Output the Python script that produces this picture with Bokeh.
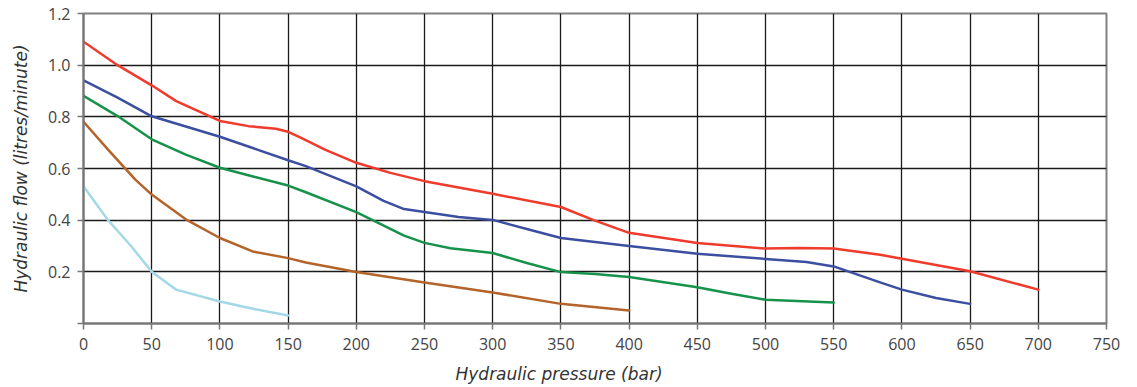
from bokeh.plotting import figure
from bokeh.models import Range1d, FixedTicker, Title
from bokeh.embed import file_html
from bokeh.resources import INLINE

# ---- data ----
x_ticks = [0, 50, 100, 150, 200, 250, 300, 350, 400, 450, 500, 550, 600, 650, 700, 750]
x_tick_labels = ["0", "50", "100", "150", "200", "250", "300", "350", "400", "450", "500", "550", "600", "650", "700", "750"]
y_ticks = [0, 0.2, 0.4, 0.6, 0.8, 1.0, 1.2]
y_tick_labels = ["", "0.2", "0.4", "0.6", "0.8", "1.0", "1.2"]

red_x = [0, 25, 50, 68, 100, 121, 141, 150, 160, 177, 200, 225, 250, 300, 350, 374, 400, 450, 500, 525, 550, 584, 600, 650, 700]
red_y = [1.091, 1.0, 0.922, 0.861, 0.784, 0.764, 0.754, 0.742, 0.718, 0.673, 0.622, 0.583, 0.551, 0.502, 0.451, 0.40, 0.351, 0.312, 0.290, 0.292, 0.290, 0.266, 0.251, 0.202, 0.131]

blue_x = [0, 25, 50, 100, 150, 163, 200, 220, 235, 250, 275, 300, 325, 350, 400, 450, 500, 530, 550, 584, 600, 625, 650]
blue_y = [0.941, 0.874, 0.802, 0.723, 0.632, 0.609, 0.531, 0.475, 0.443, 0.432, 0.412, 0.401, 0.366, 0.331, 0.300, 0.270, 0.250, 0.238, 0.221, 0.159, 0.131, 0.099, 0.076]

green_x = [0, 25, 50, 75, 100, 125, 150, 163, 200, 235, 250, 269, 300, 325, 350, 375, 400, 450, 475, 500, 550]
green_y = [0.881, 0.803, 0.713, 0.654, 0.603, 0.568, 0.534, 0.508, 0.431, 0.340, 0.312, 0.291, 0.273, 0.234, 0.199, 0.192, 0.180, 0.140, 0.115, 0.092, 0.081]

brown_x = [0, 18, 38, 50, 76, 100, 124, 150, 163, 200, 250, 300, 350, 400]
brown_y = [0.781, 0.673, 0.557, 0.499, 0.40, 0.331, 0.279, 0.253, 0.236, 0.199, 0.159, 0.120, 0.076, 0.050]

cyan_x = [0, 18, 35, 50, 68, 100, 125, 150]
cyan_y = [0.531, 0.40, 0.299, 0.20, 0.131, 0.085, 0.056, 0.031]

series = [
    (red_x, red_y, "#ef3b2c"),
    (blue_x, blue_y, "#3b4ea0"),
    (green_x, green_y, "#16924a"),
    (brown_x, brown_y, "#b4632a"),
    (cyan_x, cyan_y, "#a3d8e6"),
]

TICK_FONT = "Open Sans"
TITLE_FONT = "DejaVu Sans"

p = figure(
    frame_width=1023, frame_height=310,
    min_border_left=83, min_border_right=21, min_border_top=13, min_border_bottom=60,
    x_range=Range1d(0, 750), y_range=Range1d(0, 1.2),
    output_backend="svg", toolbar_location=None,
)
p.background_fill_color = "white"
p.border_fill_color = "white"
p.outline_line_color = "#808080"
p.outline_line_width = 2

# grid
p.xgrid.ticker = FixedTicker(ticks=x_ticks)
p.ygrid.ticker = FixedTicker(ticks=y_ticks)
for g in (p.xgrid, p.ygrid):
    g.grid_line_color = "#1a1a1a"
    g.grid_line_width = 1.3

# axes
p.xaxis.ticker = FixedTicker(ticks=x_ticks)
p.yaxis.ticker = FixedTicker(ticks=y_ticks)
p.xaxis.major_label_overrides = {t: l for t, l in zip(x_ticks, x_tick_labels)}
p.yaxis.major_label_overrides = {t: l for t, l in zip(y_ticks, y_tick_labels)}
for ax in (p.xaxis, p.yaxis):
    ax.axis_line_color = "#777777"
    ax.axis_line_width = 2
    ax.major_tick_line_color = "#777777"
    ax.major_tick_line_width = 1.5
    ax.major_tick_out = 6
    ax.major_tick_in = 0
    ax.minor_tick_line_color = None
    ax.major_label_text_font = TICK_FONT
    ax.major_label_text_font_size = "16px"
    ax.major_label_text_color = "#444444"
p.xaxis.major_label_standoff = 8
p.yaxis.major_label_standoff = 7

p.yaxis.axis_label = "Hydraulic flow (litres/minute)"
p.yaxis.axis_label_text_font = TITLE_FONT
p.yaxis.axis_label_text_font_size = "17px"
p.yaxis.axis_label_text_font_style = "italic"
p.yaxis.axis_label_text_color = "#333333"
p.yaxis.axis_label_standoff = 14

for xs, ys, c in series:
    p.line(xs, ys, line_color=c, line_width=2.5, line_join="round", line_cap="round")

# x-axis title (placed left of centre, as in the reference)
p.add_layout(Title(text="Hydraulic pressure (bar)", align="left", offset=372,
                   standoff=18, text_font=TITLE_FONT, text_font_size="17px",
                   text_font_style="italic", text_color="#333333"), "below")

open("out.html", "w").write(file_html(p, INLINE))
